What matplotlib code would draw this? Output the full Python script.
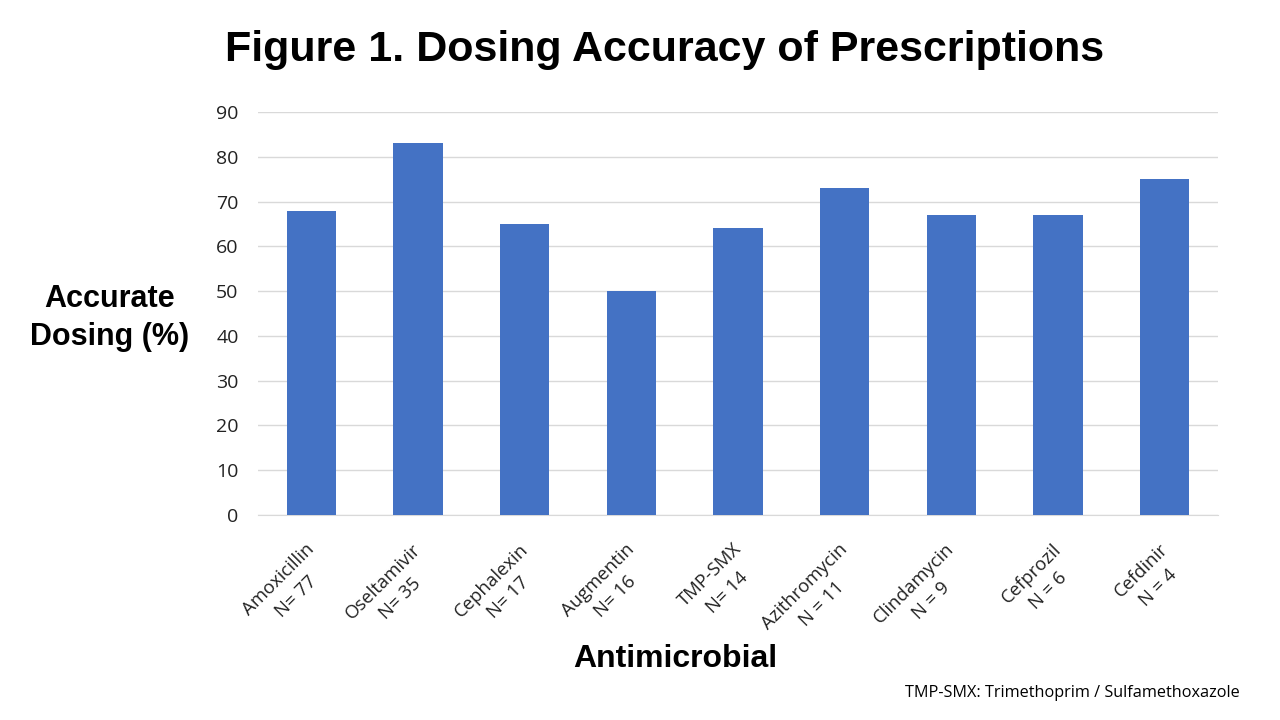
import numpy as np
import matplotlib.pyplot as plt
import matplotlib.transforms as mtransforms

drugs = ["Amoxicillin", "Oseltamivir", "Cephalexin", "Augmentin", "TMP-SMX",
         "Azithromycin", "Clindamycin", "Cefprozil", "Cefdinir"]
n_labels = ["N= 77", "N= 35", "N= 17", "N= 16", "N= 14",
            "N = 11", "N = 9", "N = 6", "N = 4"]
accuracy = [68, 83, 65, 50, 64, 73, 67, 67, 75]

fig = plt.figure(figsize=(12.8, 7.2), dpi=100)
ax = fig.add_axes([258/1280, 1-515/720, 960/1280, 403/720])

x = np.arange(len(drugs))
ax.bar(x, accuracy, width=0.46, color="#4472C4", zorder=3)

ax.set_xlim(-0.5, len(drugs)-0.5)
ax.set_ylim(0, 90)
ax.set_yticks(np.arange(0, 91, 10))
ax.grid(axis="y", color="#D9D9D9", linewidth=1, zorder=0)
for s in ["top", "right", "left"]:
    ax.spines[s].set_visible(False)
ax.spines["bottom"].set_color("#D9D9D9")
ax.tick_params(axis="both", length=0, colors="#222222")
ax.tick_params(axis="y", pad=14, labelsize=14)
for lbl in ax.get_yticklabels():
    lbl.set_family("Open Sans")

ax.set_xticks(x)
ax.set_xticklabels([d + "\n" + n for d, n in zip(drugs, n_labels)],
                   rotation=45, ha="right", rotation_mode="anchor",
                   multialignment="center", family="Open Sans", fontsize=13.3,
                   linespacing=1.45)
ax.tick_params(axis="x", pad=18)
shift = mtransforms.ScaledTranslation(-6/100, 0, fig.dpi_scale_trans)
for lbl in ax.get_xticklabels():
    lbl.set_transform(lbl.get_transform() + shift)

fig.text(665/1280, 1-50/720, "Figure 1. Dosing Accuracy of Prescriptions",
         ha="center", va="center", fontsize=31, fontweight="bold",
         family="Liberation Sans")
fig.text(110/1280, 1-318/720, "Accurate\nDosing (%)", ha="center", va="center",
         fontsize=22, fontweight="bold", family="Liberation Sans", linespacing=1.35)
fig.text(675/1280, 1-659/720, "Antimicrobial", ha="center", va="center",
         fontsize=23, fontweight="bold", family="Liberation Sans")
fig.text(1240/1280, 1-693/720, "TMP-SMX: Trimethoprim / Sulfamethoxazole",
         ha="right", va="center", fontsize=11.7, family="Open Sans")

fig.savefig("out.png", dpi=100, facecolor="white")
